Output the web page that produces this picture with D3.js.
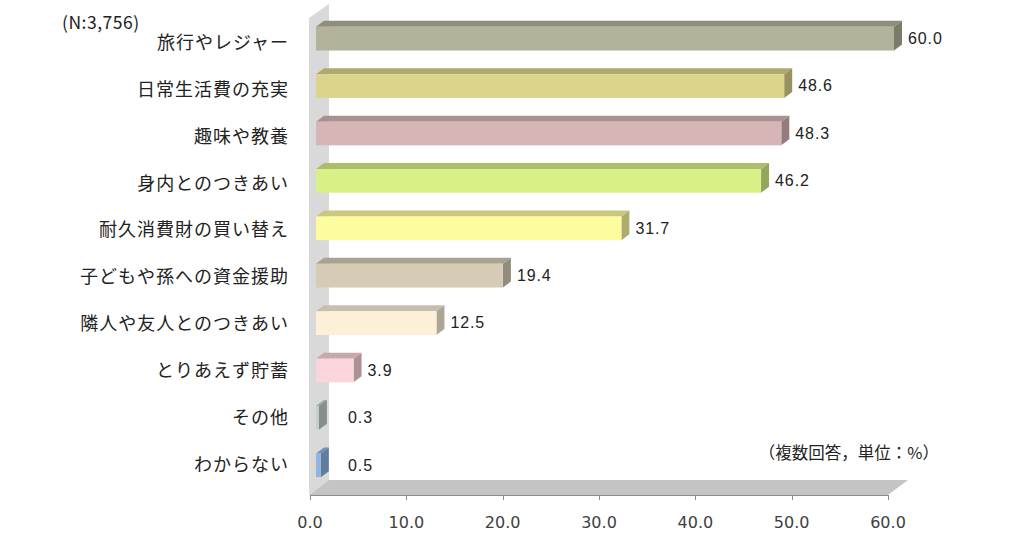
<!DOCTYPE html>
<html><head><meta charset="utf-8">
<script src="https://cdn.jsdelivr.net/npm/d3@7/dist/d3.min.js"></script>
<style>html,body{margin:0;padding:0;background:#fff;}svg{display:block;}</style>
</head><body>
<svg id="c" width="1024" height="538"></svg>
<script>
const categories = ["旅行やレジャー","日常生活費の充実","趣味や教養","身内とのつきあい","耐久消費財の買い替え","子どもや孫への資金援助","隣人や友人とのつきあい","とりあえず貯蓄","その他","わからない"];
const values = [60.0, 48.6, 48.3, 46.2, 31.7, 19.4, 12.5, 3.9, 0.3, 0.5];
const barColors = ["#b3b39c","#dbd58b","#d6b5b7","#d9f087","#fdfc9f","#d6ccb5","#fcf0d9","#fad5dc","#c3cfcf","#8fb4e3"];
const ticks = [0,10,20,30,40,50,60];
const noteN = "(N:3,756)";
const noteUnit = "（複数回答，単位：%）";

const svg = d3.select("#c");
const x = d3.scaleLinear().domain([0,60]).range([310,888]);
const y = d3.scaleBand().domain(categories).range([15,489]).paddingInner(0.5).paddingOuter(0.25);
const yl = d3.scalePoint().domain(categories).range([44,466]);

const floorY = 495, fdx = 20, fdy = 15;
const off = 6, bdx = 8, bdy = 6;

// side wall
svg.append("polygon")
  .attr("points", [[x(0)-1,18],[x(0)-1+fdx,4],[x(0)-1+fdx,floorY-fdy],[x(0)-1,floorY]].map(p=>p.join(",")).join(" "))
  .attr("fill","#d9d9d9");
// floor
svg.append("polygon")
  .attr("points", [[x(0)-1,floorY],[x(60),floorY],[x(60)+fdx,floorY-fdy],[x(0)-1+fdx,floorY-fdy]].map(p=>p.join(",")).join(" "))
  .attr("fill","#c4c4c4");
// axis line and ticks
svg.append("line").attr("x1",x(0)).attr("x2",x(60)).attr("y1",floorY+0.5).attr("y2",floorY+0.5)
  .attr("stroke","#8c8c8c").attr("stroke-width",1);
svg.selectAll("line.tk").data(ticks).enter().append("line").attr("class","tk")
  .attr("x1",d=>Math.round(x(d))+0.5).attr("x2",d=>Math.round(x(d))+0.5)
  .attr("y1",floorY).attr("y2",floorY+5).attr("stroke","#8c8c8c");
svg.selectAll("text.tl").data(ticks).enter().append("text").attr("class","tl")
  .attr("x",d=>x(d)).attr("y",528).attr("text-anchor","middle")
  .style("font-family","DejaVu Sans, sans-serif").style("font-size","16px").attr("fill","#404040")
  .text(d=>d3.format(".1f")(d));

// bars
const bars = svg.selectAll("g.bar").data(categories).enter().append("g").attr("class","bar");
bars.each(function(c,i){
  const g = d3.select(this);
  const v = values[i], col = d3.color(barColors[i]);
  const x0 = x(0)+off, x1 = x(v)+off;
  const yT = y(c), yB = y(c)+y.bandwidth();
  g.append("polygon").attr("points",[[x0,yT],[x0+bdx,yT-bdy],[x1+bdx,yT-bdy],[x1,yT]].map(p=>p.join(",")).join(" "))
    .attr("fill", col.darker(0.65).formatHex());
  g.append("polygon").attr("points",[[x1,yT],[x1+bdx,yT-bdy],[x1+bdx,yB-bdy],[x1,yB]].map(p=>p.join(",")).join(" "))
    .attr("fill", col.darker(1.05).formatHex());
  g.append("rect").attr("x",x0).attr("y",yT).attr("width",Math.max(0,x1-x0)).attr("height",yB-yT)
    .attr("fill", col.formatHex());
});

// value labels
svg.selectAll("text.vl").data(categories).enter().append("text").attr("class","vl")
  .attr("x",(c,i)=>Math.max(x(values[i])+20,348)).attr("y",c=>y(c)+y.bandwidth()/2+1)
  .attr("dominant-baseline","middle")
  .style("font-family","Liberation Sans, Arial, sans-serif").style("font-size","16px").style("letter-spacing","0.9px")
  .attr("fill","#222").text((c,i)=>d3.format(".1f")(values[i]));

// category labels
svg.selectAll("text.cl").data(categories).enter().append("text").attr("class","cl")
  .attr("x",289).attr("y",c=>yl(c)).attr("text-anchor","end").attr("dominant-baseline","middle")
  .style("font-family","Noto Sans CJK JP, sans-serif").style("font-size","18px").style("letter-spacing","1px")
  .attr("fill","#222").text(c=>c);

svg.append("text").attr("x",62).attr("y",24).attr("dominant-baseline","middle")
  .style("font-family","Noto Sans CJK JP, sans-serif").style("font-size","17.5px").style("letter-spacing","0.5px").attr("fill","#222").text(noteN);
svg.append("text").attr("x",939).attr("y",455).attr("text-anchor","end").attr("dominant-baseline","middle")
  .style("font-family","Noto Sans CJK JP, sans-serif").style("font-size","16.5px").attr("fill","#222").text(noteUnit);
</script>
</body></html>
